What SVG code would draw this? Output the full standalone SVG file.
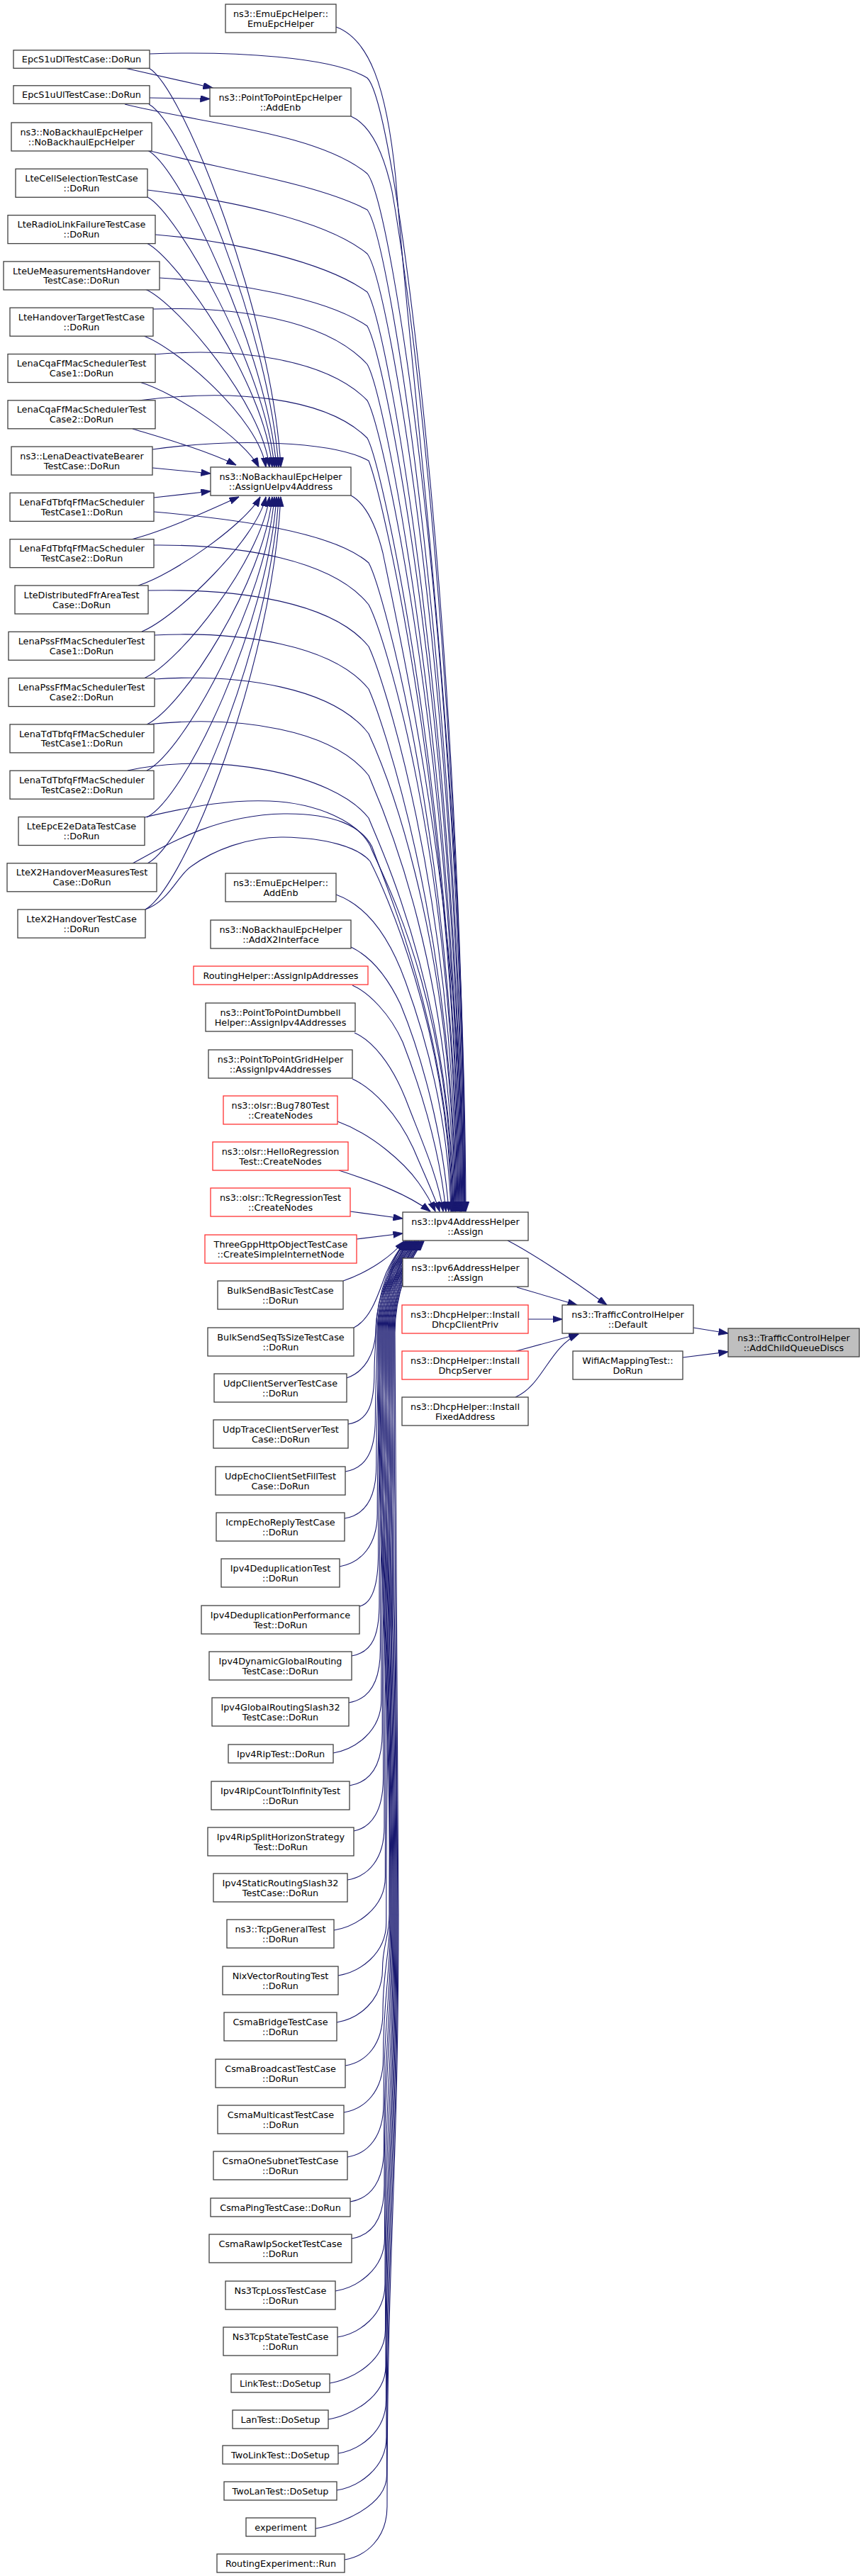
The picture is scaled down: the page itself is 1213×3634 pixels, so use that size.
<svg xmlns="http://www.w3.org/2000/svg" width="1213" height="3634" viewBox="0 0 1213 3634">
<style>
.n rect{fill:#fff;stroke:#404040;stroke-width:1.3}
.r rect{fill:#fff;stroke:#f33;stroke-width:1.3}
.g rect{fill:#bfbfbf;stroke:#404040;stroke-width:1.3}
text{font-family:"DejaVu Sans","Liberation Sans",sans-serif;font-size:12.8px;text-anchor:middle;fill:#000}
#edges path{fill:none;stroke:#191970;stroke-width:1.1;marker-end:url(#ah)}
</style>
<defs>
<marker id="ah" markerUnits="userSpaceOnUse" viewBox="0 0 14 10" markerWidth="14" markerHeight="10" refX="13.5" refY="4.75" orient="auto">
<path d="M0,0 L14,4.75 L0,9.5 z" fill="#191970" stroke="#191970" stroke-width="0.8"/>
</marker>
</defs>
<rect width="1213" height="3634" fill="#fff"/>
<g id="edges">
<path d="M978,1873 L1027,1881"/>
<path d="M963,1915 L1027,1907"/>
<path d="M716,1750 C745,1765 800,1800 856,1841"/>
<path d="M729,1816 L814,1841"/>
<path d="M745,1861 L793,1861"/>
<path d="M728,1906 L816,1882"/>
<path d="M727,1971 C765,1955 775,1900 816,1882"/>
<path d="M176,96 L300,124"/>
<path d="M211,138 L296,139.5"/>
<path d="M210,96 C260,125 385,450 396,659"/>
<path d="M210,147 C260,175 380,470 393,659"/>
<path d="M208,212 C255,235 377,500 390,659"/>
<path d="M208,278 C250,300 375,520 387,659"/>
<path d="M207,343 C250,365 373,540 384,659"/>
<path d="M205,408 C250,428 370,570 380,659"/>
<path d="M203,474 C250,492 365,590 375,659"/>
<path d="M197,539 C250,555 345,620 365,659"/>
<path d="M187,605 C230,618 290,635 333,656"/>
<path d="M215,660 L297,668"/>
<path d="M217,702 L297,693"/>
<path d="M185,761 C230,750 290,722 337,701"/>
<path d="M195,826 C245,810 345,740 367,701"/>
<path d="M200,891 C250,870 362,760 375,701"/>
<path d="M203,957 C253,935 368,790 380,701"/>
<path d="M207,1022 C258,998 372,820 384,701"/>
<path d="M207,1087 C260,1060 375,850 387,701"/>
<path d="M207,1153 C262,1125 378,880 390,701"/>
<path d="M208,1218 C265,1188 381,910 393,701"/>
<path d="M205,1283 C262,1250 384,940 396,701"/>
<path d="M211,76 C330,72 470,80 518,110 C560,150 652,900 656,1709"/>
<path d="M176,147 C290,175 450,188 518,245 C555,290 651,950 655,1709"/>
<path d="M208,212 C320,240 450,260 518,296 C552,340 650,1000 654,1709"/>
<path d="M208,268 C320,282 460,310 518,358 C550,400 649,1000 653,1709"/>
<path d="M219,331 C330,340 460,370 518,412 C548,460 648,1050 652,1709"/>
<path d="M225,392 C330,398 460,420 518,460 C546,510 647,1050 651,1709"/>
<path d="M216,436 C330,432 460,450 518,514 C545,560 646,1100 650,1709"/>
<path d="M217,500 C330,490 460,505 518,565 C543,610 645,1100 649,1709"/>
<path d="M195,565 C330,548 460,560 518,618 C541,660 644,1150 648,1709"/>
<path d="M215,634 C330,618 470,622 520,650 C540,700 643,1150 647,1709"/>
<path d="M217,722 C330,732 470,750 520,794 C540,830 642,1200 646,1709"/>
<path d="M217,769 C340,768 470,790 520,853 C540,890 641,1200 645,1709"/>
<path d="M209,833 C340,830 470,850 520,912 C538,950 640,1250 644,1709"/>
<path d="M218,896 C340,890 470,910 520,972 C537,1010 639,1300 643,1709"/>
<path d="M218,958 C340,950 470,970 520,1035 C536,1070 638,1300 642,1709"/>
<path d="M207,1022 C340,1008 470,1030 520,1094 C535,1130 637,1350 641,1709"/>
<path d="M180,1087 C300,1060 470,1090 520,1154 C534,1190 636,1400 640,1709"/>
<path d="M204,1153 C280,1135 330,1128 380,1130 C450,1133 505,1160 522,1193 C536,1230 635,1400 639,1709"/>
<path d="M187,1218 C230,1195 300,1150 400,1148 C470,1147 510,1165 525,1195 C540,1240 634,1450 638,1709"/>
<path d="M205,1283 C240,1270 250,1235 270,1222 C300,1200 350,1180 400,1181 C460,1182 505,1195 522,1215 C540,1250 633,1450 637,1709"/>
<path d="M474,38 C520,55 545,120 558,250 C585,600 655,1100 657,1709"/>
<path d="M495,164 C520,175 540,210 553,270 C585,450 650,1000 656,1709"/>
<path d="M495,699 C515,710 530,740 540,780 C575,950 650,1300 655,1709"/>
<path d="M474,1262 C510,1275 545,1310 572,1385 C603,1470 632,1580 636,1709"/>
<path d="M495,1336 C520,1348 545,1375 565,1417 C595,1490 625,1600 633,1709"/>
<path d="M497,1390 C520,1400 550,1430 568,1470 C595,1540 620,1620 629,1709"/>
<path d="M500,1457 C525,1468 552,1500 572,1550 C595,1610 618,1660 625,1709"/>
<path d="M497,1522 C525,1535 560,1570 583,1620 C600,1660 614,1690 620,1709"/>
<path d="M476,1582 C525,1600 570,1640 590,1668 C602,1685 610,1700 614,1709"/>
<path d="M478,1651 C530,1668 575,1685 607,1709"/>
<path d="M494,1709 L568,1719"/>
<path d="M503,1748 L568,1740"/>
<path d="M484,1807 C510,1798 545,1780 570,1751"/>
<path d="M499,1873 C525,1860 535,1820 545,1795 C552,1780 560,1765 572,1751"/>
<path d="M489,1944 C515,1935 528,1910 530,1880 C532,1820 553,1772 574,1751"/>
<path d="M491,2009 C521,2004 528,1979 528,1934 C528,1912 530,1902 530,1880 C530,1825 558,1772 576,1751"/>
<path d="M487,2076 C517,2071 529.4,2046 529.4,2001 C529.4,1953 532,1928 532,1880 C532,1825 560,1772 578,1751"/>
<path d="M486,2142 C516,2137 530.8,2112 530.8,2067 C530.8,1992 534,1955 534,1880 C534,1825 561,1772 579,1751"/>
<path d="M479,2210 C509,2205 532.2,2180 532.2,2135 C532.2,2033 536,1982 536,1880 C536,1825 563,1772 581,1751"/>
<path d="M507,2266 C525,2262 533.6,2236 533.6,2191 C533.6,2067 538,2004 538,1880 C538,1825 565,1772 583,1751"/>
<path d="M496,2336 C526,2331 535,2306 535,2261 C535,2109 540,2032 540,1880 C540,1825 567,1772 585,1751"/>
<path d="M492,2402 C522,2397 536.4,2372 536.4,2327 C536.4,2148 542,2059 542,1880 C542,1825 568,1772 586,1751"/>
<path d="M470,2473 C500,2468 537.8,2443 537.8,2398 C537.8,2191 544,2087 544,1880 C544,1825 570,1772 588,1751"/>
<path d="M493,2519 C523,2514 539.2,2489 539.2,2444 C539.2,2218 546,2106 546,1880 C546,1825 572,1772 590,1751"/>
<path d="M499,2583 C525,2578 540.6,2553 540.6,2508 C540.6,2257 548,2131 548,1880 C548,1825 573,1772 591,1751"/>
<path d="M490,2652 C520,2647 542,2622 542,2577 C542,2298 550,2159 550,1880 C550,1825 575,1772 593,1751"/>
<path d="M471,2723 C501,2718 543.4,2693 543.4,2648 C543.4,2341 552,2187 552,1880 C552,1825 577,1772 595,1751"/>
<path d="M477,2787 C507,2782 544.8,2757 544.8,2712 C544.8,2379 554,2213 554,1880 C554,1825 578,1772 596,1751"/>
<path d="M475,2853 C505,2848 539.5,2823 539.5,2778 C539.5,2743 549,2735 549,2700 C549,2370 556,2210 556,1880 C556,1825 580,1772 598,1751"/>
<path d="M487,2914 C517,2909 540,2884 540,2839 C540,2776 550,2763 550,2700 C550,2370 533,2210 533,1880 C533,1825 555,1772 573,1751"/>
<path d="M485,2980 C515,2975 540.5,2950 540.5,2905 C540.5,2813 551,2792 551,2700 C551,2370 535,2210 535,1880 C535,1825 557,1772 575,1751"/>
<path d="M490,3043 C520,3038 541,3013 541,2968 C541,2847 552,2821 552,2700 C552,2370 537,2210 537,1880 C537,1825 559,1772 577,1751"/>
<path d="M494,3106 C524,3101 541.5,3076 541.5,3031 C541.5,2882 553,2849 553,2700 C553,2370 539,2210 539,1880 C539,1825 561,1772 579,1751"/>
<path d="M496,3158 C526,3153 542,3128 542,3083 C542,2911 554,2872 554,2700 C554,2370 541,2210 541,1880 C541,1825 563,1772 581,1751"/>
<path d="M473,3232 C503,3227 542.5,3202 542.5,3157 C542.5,2951 555,2906 555,2700 C555,2370 543,2210 543,1880 C543,1825 565,1772 583,1751"/>
<path d="M476,3297 C506,3292 543,3267 543,3222 C543,2987 556,2935 556,2700 C556,2370 545,2210 545,1880 C545,1825 567,1772 585,1751"/>
<path d="M465,3362 C495,3357 543.5,3332 543.5,3287 C543.5,3023 557,2964 557,2700 C557,2370 547,2210 547,1880 C547,1825 569,1772 587,1751"/>
<path d="M463,3413 C493,3408 544,3383 544,3338 C544,3051 558,2987 558,2700 C558,2370 549,2210 549,1880 C549,1825 571,1772 589,1751"/>
<path d="M477,3461 C507,3456 544.5,3431 544.5,3386 C544.5,3077 559,3009 559,2700 C559,2370 551,2210 551,1880 C551,1825 573,1772 591,1751"/>
<path d="M475,3513 C505,3508 545,3483 545,3438 C545,3106 560,3032 560,2700 C560,2370 553,2210 553,1880 C553,1825 575,1772 593,1751"/>
<path d="M445,3567 C475,3562 545.5,3537 545.5,3492 C545.5,3136 561,3056 561,2700 C561,2370 555,2210 555,1880 C555,1825 577,1772 595,1751"/>
<path d="M486,3611 C516,3606 546,3581 546,3536 C546,3160 562,3076 562,2700 C562,2370 557,2210 557,1880 C557,1825 579,1772 597,1751"/>
</g>
<g id="n_EpcS1uDl" class="n"><rect x="19" y="70.8" width="192" height="25.5"/><text x="115" y="88.1">EpcS1uDlTestCase::DoRun</text></g>
<g id="n_EpcS1uUl" class="n"><rect x="19" y="120.8" width="192" height="25.5"/><text x="115" y="138.1">EpcS1uUlTestCase::DoRun</text></g>
<g id="n_NoBackhaulCtor" class="n"><rect x="16" y="173" width="198" height="40"/><text x="115" y="190.6">ns3::NoBackhaulEpcHelper<tspan x="115" dy="13.9">::NoBackhaulEpcHelper</tspan></text></g>
<g id="n_LteCellSel" class="n"><rect x="22" y="238.3" width="186" height="40"/><text x="115" y="255.9">LteCellSelectionTestCase<tspan x="115" dy="13.9">::DoRun</tspan></text></g>
<g id="n_LteRlf" class="n"><rect x="11" y="303.6" width="208" height="40"/><text x="115" y="321.2">LteRadioLinkFailureTestCase<tspan x="115" dy="13.9">::DoRun</tspan></text></g>
<g id="n_LteUeMeas" class="n"><rect x="5" y="368.9" width="220" height="40"/><text x="115" y="386.5">LteUeMeasurementsHandover<tspan x="115" dy="13.9">TestCase::DoRun</tspan></text></g>
<g id="n_LteHoTarget" class="n"><rect x="14" y="434.2" width="202" height="40"/><text x="115" y="451.8">LteHandoverTargetTestCase<tspan x="115" dy="13.9">::DoRun</tspan></text></g>
<g id="n_LenaCqa1" class="n"><rect x="11" y="499.5" width="208" height="40"/><text x="115" y="517.1">LenaCqaFfMacSchedulerTest<tspan x="115" dy="13.9">Case1::DoRun</tspan></text></g>
<g id="n_LenaCqa2" class="n"><rect x="11" y="564.8" width="208" height="40"/><text x="115" y="582.4">LenaCqaFfMacSchedulerTest<tspan x="115" dy="13.9">Case2::DoRun</tspan></text></g>
<g id="n_LenaDeact" class="n"><rect x="16" y="630.1" width="199" height="40"/><text x="115.5" y="647.7">ns3::LenaDeactivateBearer<tspan x="115.5" dy="13.9">TestCase::DoRun</tspan></text></g>
<g id="n_LenaFd1" class="n"><rect x="14" y="695.4" width="203" height="40"/><text x="115.5" y="713">LenaFdTbfqFfMacScheduler<tspan x="115.5" dy="13.9">TestCase1::DoRun</tspan></text></g>
<g id="n_LenaFd2" class="n"><rect x="14" y="760.7" width="203" height="40"/><text x="115.5" y="778.3">LenaFdTbfqFfMacScheduler<tspan x="115.5" dy="13.9">TestCase2::DoRun</tspan></text></g>
<g id="n_LteDistFfr" class="n"><rect x="21" y="826" width="188" height="40"/><text x="115" y="843.6">LteDistributedFfrAreaTest<tspan x="115" dy="13.9">Case::DoRun</tspan></text></g>
<g id="n_LenaPss1" class="n"><rect x="12" y="891.3" width="206" height="40"/><text x="115" y="908.9">LenaPssFfMacSchedulerTest<tspan x="115" dy="13.9">Case1::DoRun</tspan></text></g>
<g id="n_LenaPss2" class="n"><rect x="12" y="956.6" width="206" height="40"/><text x="115" y="974.2">LenaPssFfMacSchedulerTest<tspan x="115" dy="13.9">Case2::DoRun</tspan></text></g>
<g id="n_LenaTd1" class="n"><rect x="14" y="1021.9" width="203" height="40"/><text x="115.5" y="1039.5">LenaTdTbfqFfMacScheduler<tspan x="115.5" dy="13.9">TestCase1::DoRun</tspan></text></g>
<g id="n_LenaTd2" class="n"><rect x="14" y="1087.2" width="203" height="40"/><text x="115.5" y="1104.8">LenaTdTbfqFfMacScheduler<tspan x="115.5" dy="13.9">TestCase2::DoRun</tspan></text></g>
<g id="n_LteEpcE2e" class="n"><rect x="26" y="1152.5" width="178" height="40"/><text x="115" y="1170.1">LteEpcE2eDataTestCase<tspan x="115" dy="13.9">::DoRun</tspan></text></g>
<g id="n_LteX2Meas" class="n"><rect x="10" y="1217.8" width="211" height="40"/><text x="115.5" y="1235.4">LteX2HandoverMeasuresTest<tspan x="115.5" dy="13.9">Case::DoRun</tspan></text></g>
<g id="n_LteX2Ho" class="n"><rect x="25" y="1283.1" width="180" height="40"/><text x="115" y="1300.7">LteX2HandoverTestCase<tspan x="115" dy="13.9">::DoRun</tspan></text></g>
<g id="n_EmuCtor" class="n"><rect x="318" y="6" width="156" height="40"/><text x="396" y="23.6">ns3::EmuEpcHelper::<tspan x="396" dy="13.9">EmuEpcHelper</tspan></text></g>
<g id="n_P2PAddEnb" class="n"><rect x="296" y="124" width="199" height="40"/><text x="395.5" y="141.6">ns3::PointToPointEpcHelper<tspan x="395.5" dy="13.9">::AddEnb</tspan></text></g>
<g id="n_AssignUe" class="n"><rect x="297" y="659" width="198" height="40"/><text x="396" y="676.6">ns3::NoBackhaulEpcHelper<tspan x="396" dy="13.9">::AssignUeIpv4Address</tspan></text></g>
<g id="n_EmuAddEnb" class="n"><rect x="318" y="1232" width="156" height="40"/><text x="396" y="1249.6">ns3::EmuEpcHelper::<tspan x="396" dy="13.9">AddEnb</tspan></text></g>
<g id="n_AddX2" class="n"><rect x="297" y="1298" width="198" height="40"/><text x="396" y="1315.6">ns3::NoBackhaulEpcHelper<tspan x="396" dy="13.9">::AddX2Interface</tspan></text></g>
<g id="n_RoutingHelper" class="r"><rect x="273" y="1363" width="246" height="26"/><text x="396" y="1380.6">RoutingHelper::AssignIpAddresses</text></g>
<g id="n_Dumbbell" class="n"><rect x="290" y="1415" width="211" height="40"/><text x="395.5" y="1432.6">ns3::PointToPointDumbbell<tspan x="395.5" dy="13.9">Helper::AssignIpv4Addresses</tspan></text></g>
<g id="n_Grid" class="n"><rect x="294" y="1481" width="203" height="40"/><text x="395.5" y="1498.6">ns3::PointToPointGridHelper<tspan x="395.5" dy="13.9">::AssignIpv4Addresses</tspan></text></g>
<g id="n_Bug780" class="r"><rect x="315" y="1546" width="161" height="40"/><text x="395.5" y="1563.6">ns3::olsr::Bug780Test<tspan x="395.5" dy="13.9">::CreateNodes</tspan></text></g>
<g id="n_HelloReg" class="r"><rect x="300" y="1611" width="191" height="40"/><text x="395.5" y="1628.6">ns3::olsr::HelloRegression<tspan x="395.5" dy="13.9">Test::CreateNodes</tspan></text></g>
<g id="n_TcReg" class="r"><rect x="297" y="1676" width="197" height="40"/><text x="395.5" y="1693.6">ns3::olsr::TcRegressionTest<tspan x="395.5" dy="13.9">::CreateNodes</tspan></text></g>
<g id="n_ThreeGpp" class="r"><rect x="289" y="1742" width="214" height="40"/><text x="396" y="1759.6">ThreeGppHttpObjectTestCase<tspan x="396" dy="13.9">::CreateSimpleInternetNode</tspan></text></g>
<g id="n_BulkBasic" class="n"><rect x="307" y="1807" width="177" height="40"/><text x="395.5" y="1824.6">BulkSendBasicTestCase<tspan x="395.5" dy="13.9">::DoRun</tspan></text></g>
<g id="n_BulkSeq" class="n"><rect x="293" y="1873" width="206" height="40"/><text x="396" y="1890.6">BulkSendSeqTsSizeTestCase<tspan x="396" dy="13.9">::DoRun</tspan></text></g>
<g id="n_UdpCS" class="n"><rect x="302" y="1938" width="187" height="40"/><text x="395.5" y="1955.6">UdpClientServerTestCase<tspan x="395.5" dy="13.9">::DoRun</tspan></text></g>
<g id="n_UdpTrace" class="n"><rect x="301" y="2003" width="190" height="40"/><text x="396" y="2020.6">UdpTraceClientServerTest<tspan x="396" dy="13.9">Case::DoRun</tspan></text></g>
<g id="n_UdpEcho" class="n"><rect x="304" y="2069" width="183" height="40"/><text x="395.5" y="2086.6">UdpEchoClientSetFillTest<tspan x="395.5" dy="13.9">Case::DoRun</tspan></text></g>
<g id="n_Icmp" class="n"><rect x="305" y="2134" width="181" height="40"/><text x="395.5" y="2151.6">IcmpEchoReplyTestCase<tspan x="395.5" dy="13.9">::DoRun</tspan></text></g>
<g id="n_Dedup" class="n"><rect x="312" y="2199" width="167" height="40"/><text x="395.5" y="2216.6">Ipv4DeduplicationTest<tspan x="395.5" dy="13.9">::DoRun</tspan></text></g>
<g id="n_DedupPerf" class="n"><rect x="284" y="2265" width="223" height="40"/><text x="395.5" y="2282.6">Ipv4DeduplicationPerformance<tspan x="395.5" dy="13.9">Test::DoRun</tspan></text></g>
<g id="n_DynGlobal" class="n"><rect x="295" y="2330" width="201" height="40"/><text x="395.5" y="2347.6">Ipv4DynamicGlobalRouting<tspan x="395.5" dy="13.9">TestCase::DoRun</tspan></text></g>
<g id="n_GlobalSlash" class="n"><rect x="299" y="2395" width="193" height="40"/><text x="395.5" y="2412.6">Ipv4GlobalRoutingSlash32<tspan x="395.5" dy="13.9">TestCase::DoRun</tspan></text></g>
<g id="n_RipTest" class="n"><rect x="322" y="2461" width="148" height="26"/><text x="396" y="2478.6">Ipv4RipTest::DoRun</text></g>
<g id="n_RipCount" class="n"><rect x="298" y="2513" width="195" height="40"/><text x="395.5" y="2530.6">Ipv4RipCountToInfinityTest<tspan x="395.5" dy="13.9">::DoRun</tspan></text></g>
<g id="n_RipSplit" class="n"><rect x="293" y="2578" width="206" height="40"/><text x="396" y="2595.6">Ipv4RipSplitHorizonStrategy<tspan x="396" dy="13.9">Test::DoRun</tspan></text></g>
<g id="n_StaticSlash" class="n"><rect x="301" y="2643" width="189" height="40"/><text x="395.5" y="2660.6">Ipv4StaticRoutingSlash32<tspan x="395.5" dy="13.9">TestCase::DoRun</tspan></text></g>
<g id="n_TcpGeneral" class="n"><rect x="320" y="2708" width="151" height="40"/><text x="395.5" y="2725.6">ns3::TcpGeneralTest<tspan x="395.5" dy="13.9">::DoRun</tspan></text></g>
<g id="n_Nix" class="n"><rect x="314" y="2774" width="163" height="40"/><text x="395.5" y="2791.6">NixVectorRoutingTest<tspan x="395.5" dy="13.9">::DoRun</tspan></text></g>
<g id="n_CsmaBridge" class="n"><rect x="316" y="2839" width="159" height="40"/><text x="395.5" y="2856.6">CsmaBridgeTestCase<tspan x="395.5" dy="13.9">::DoRun</tspan></text></g>
<g id="n_CsmaBroadcast" class="n"><rect x="304" y="2905" width="183" height="40"/><text x="395.5" y="2922.6">CsmaBroadcastTestCase<tspan x="395.5" dy="13.9">::DoRun</tspan></text></g>
<g id="n_CsmaMulticast" class="n"><rect x="307" y="2970" width="178" height="40"/><text x="396" y="2987.6">CsmaMulticastTestCase<tspan x="396" dy="13.9">::DoRun</tspan></text></g>
<g id="n_CsmaOneSubnet" class="n"><rect x="301" y="3035" width="189" height="40"/><text x="395.5" y="3052.6">CsmaOneSubnetTestCase<tspan x="395.5" dy="13.9">::DoRun</tspan></text></g>
<g id="n_CsmaPing" class="n"><rect x="297" y="3101" width="197" height="26"/><text x="395.5" y="3118.6">CsmaPingTestCase::DoRun</text></g>
<g id="n_CsmaRaw" class="n"><rect x="295" y="3152" width="201" height="40"/><text x="395.5" y="3169.6">CsmaRawIpSocketTestCase<tspan x="395.5" dy="13.9">::DoRun</tspan></text></g>
<g id="n_TcpLoss" class="n"><rect x="318" y="3218" width="155" height="40"/><text x="395.5" y="3235.6">Ns3TcpLossTestCase<tspan x="395.5" dy="13.9">::DoRun</tspan></text></g>
<g id="n_TcpState" class="n"><rect x="315" y="3283" width="161" height="40"/><text x="395.5" y="3300.6">Ns3TcpStateTestCase<tspan x="395.5" dy="13.9">::DoRun</tspan></text></g>
<g id="n_LinkTest" class="n"><rect x="326" y="3349" width="139" height="26"/><text x="395.5" y="3366.6">LinkTest::DoSetup</text></g>
<g id="n_LanTest" class="n"><rect x="328" y="3400" width="135" height="26"/><text x="395.5" y="3417.6">LanTest::DoSetup</text></g>
<g id="n_TwoLink" class="n"><rect x="314" y="3450" width="163" height="26"/><text x="395.5" y="3467.6">TwoLinkTest::DoSetup</text></g>
<g id="n_TwoLan" class="n"><rect x="316" y="3501" width="159" height="26"/><text x="395.5" y="3518.6">TwoLanTest::DoSetup</text></g>
<g id="n_experiment" class="n"><rect x="347" y="3552" width="98" height="26"/><text x="396" y="3569.6">experiment</text></g>
<g id="n_RoutingExp" class="n"><rect x="306" y="3603" width="180" height="26"/><text x="396" y="3620.6">RoutingExperiment::Run</text></g>
<g id="n_Ipv4Assign" class="n"><rect x="568" y="1710" width="177" height="40"/><text x="656.5" y="1727.6">ns3::Ipv4AddressHelper<tspan x="656.5" dy="13.9">::Assign</tspan></text></g>
<g id="n_Ipv6Assign" class="n"><rect x="568" y="1775" width="177" height="40"/><text x="656.5" y="1792.6">ns3::Ipv6AddressHelper<tspan x="656.5" dy="13.9">::Assign</tspan></text></g>
<g id="n_DhcpClientPriv" class="r"><rect x="567" y="1841" width="178" height="40"/><text x="656" y="1858.6">ns3::DhcpHelper::Install<tspan x="656" dy="13.9">DhcpClientPriv</tspan></text></g>
<g id="n_DhcpServer" class="r"><rect x="567" y="1906" width="178" height="40"/><text x="656" y="1923.6">ns3::DhcpHelper::Install<tspan x="656" dy="13.9">DhcpServer</tspan></text></g>
<g id="n_DhcpFixed" class="n"><rect x="567" y="1971" width="178" height="40"/><text x="656" y="1988.6">ns3::DhcpHelper::Install<tspan x="656" dy="13.9">FixedAddress</tspan></text></g>
<g id="n_TcDefault" class="n"><rect x="793" y="1841" width="185" height="40"/><text x="885.5" y="1858.6">ns3::TrafficControlHelper<tspan x="885.5" dy="13.9">::Default</tspan></text></g>
<g id="n_WifiAc" class="n"><rect x="808" y="1906" width="155" height="40"/><text x="885.5" y="1923.6">WifiAcMappingTest::<tspan x="885.5" dy="13.9">DoRun</tspan></text></g>
<g id="n_AddChildQueueDiscs" class="g"><rect x="1027" y="1874" width="185" height="40"/><text x="1119.5" y="1891.6">ns3::TrafficControlHelper<tspan x="1119.5" dy="13.9">::AddChildQueueDiscs</tspan></text></g>
</svg>
